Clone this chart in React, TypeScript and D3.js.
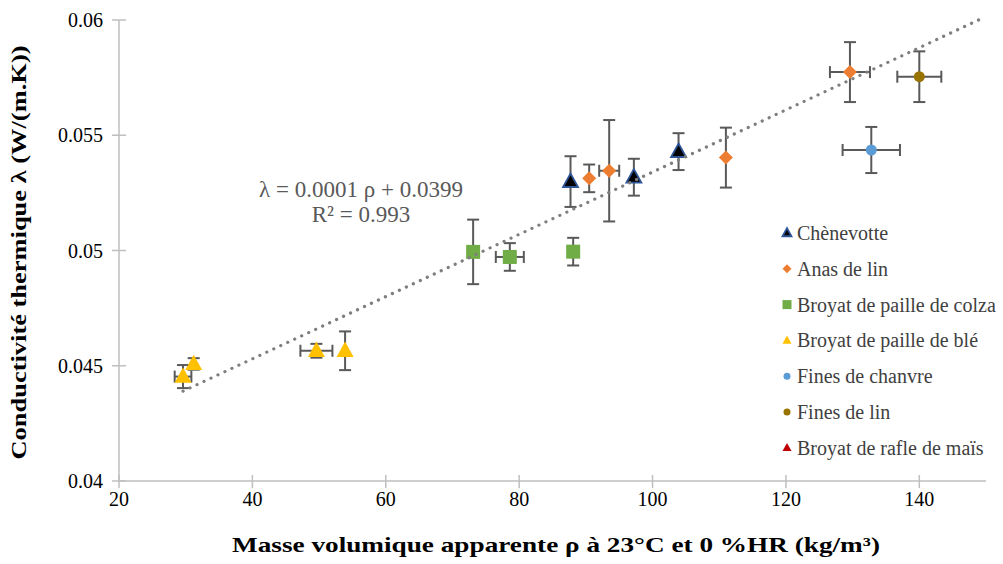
import React from "react";
import * as d3 from "d3";

const W = 1003;
const H = 564;

const xTicks = [20, 40, 60, 80, 100, 120, 140];
const yTicks = [0.04, 0.045, 0.05, 0.055, 0.06];

// Chènevotte
const chenX = [87.7, 97.2, 103.9];
const chenY = [0.05299, 0.05318, 0.05429];
const chenXErr = [0, 0, 0];
const chenYErr = [0.0011, 0.0008, 0.0008];

// Anas de lin
const anasX = [90.5, 93.5, 111.0, 129.6];
const anasY = [0.05313, 0.05346, 0.05403, 0.05774];
const anasXErr = [0, 1.5, 0, 3.0];
const anasYErr = [0.0006, 0.0022, 0.0013, 0.0013];

// Broyat de paille de colza
const colzaX = [73.1, 78.6, 88.1];
const colzaY = [0.04994, 0.04972, 0.04995];
const colzaXErr = [0, 2.1, 0];
const colzaYErr = [0.0014, 0.0006, 0.0006];

// Broyat de paille de blé
const bleX = [29.6, 31.2, 49.6, 53.9];
const bleY = [0.04453, 0.04508, 0.04565, 0.04565];
const bleXErr = [1.25, 0, 2.4, 0];
const bleYErr = [0.0005, 0.00025, 0.0003, 0.00084];

// Fines de chanvre
const chanvreX = [132.8];
const chanvreY = [0.05436];
const chanvreXErr = [4.3];
const chanvreYErr = [0.001];

// Fines de lin
const finesLinX = [140.0];
const finesLinY = [0.05754];
const finesLinXErr = [3.3];
const finesLinYErr = [0.0011];

// Broyat de rafle de maïs (no visible points)
const maisX: number[] = [];
const maisY: number[] = [];
const maisXErr: number[] = [];
const maisYErr: number[] = [];

// Trendline
const trendSlope = 0.000135;
const trendIntercept = 0.0399;
const trendRange = [29.6, 149];
const equationText = "λ = 0.0001 ρ + 0.0399";
const r2Text = "R² = 0.993";

type Shape = "triangle" | "diamond" | "square" | "circle";
interface Series {
  name: string;
  xs: number[];
  ys: number[];
  xe: number[];
  ye: number[];
  shape: Shape;
  fill: string;
  stroke: string;
  size: number;
}

const series: Series[] = [
  { name: "Chènevotte", xs: chenX, ys: chenY, xe: chenXErr, ye: chenYErr, shape: "triangle", fill: "#000000", stroke: "#2f5597", size: 15 },
  { name: "Anas de lin", xs: anasX, ys: anasY, xe: anasXErr, ye: anasYErr, shape: "diamond", fill: "#ed7d31", stroke: "none", size: 14 },
  { name: "Broyat de paille de colza", xs: colzaX, ys: colzaY, xe: colzaXErr, ye: colzaYErr, shape: "square", fill: "#70ad47", stroke: "none", size: 14 },
  { name: "Broyat de paille de blé", xs: bleX, ys: bleY, xe: bleXErr, ye: bleYErr, shape: "triangle", fill: "#ffc000", stroke: "none", size: 17 },
  { name: "Fines de chanvre", xs: chanvreX, ys: chanvreY, xe: chanvreXErr, ye: chanvreYErr, shape: "circle", fill: "#5b9bd5", stroke: "none", size: 11 },
  { name: "Fines de lin", xs: finesLinX, ys: finesLinY, xe: finesLinXErr, ye: finesLinYErr, shape: "circle", fill: "#997300", stroke: "none", size: 11 },
  { name: "Broyat de rafle de maïs", xs: maisX, ys: maisY, xe: maisXErr, ye: maisYErr, shape: "triangle", fill: "#c00000", stroke: "none", size: 15 },
];

const left = 119;
const right = 986;
const top = 20;
const bottom = 481;

const x = d3.scaleLinear().domain([20, 150]).range([left, right]);
const y = d3.scaleLinear().domain([0.04, 0.06]).range([bottom, top]);

function Marker({ shape, cx, cy, size, fill, stroke }: { shape: Shape; cx: number; cy: number; size: number; fill: string; stroke: string }) {
  const s = size;
  if (shape === "triangle") {
    const h = s * 0.9;
    const pts = `${cx},${cy - h * 0.6} ${cx + s / 2},${cy + h * 0.4} ${cx - s / 2},${cy + h * 0.4}`;
    return <polygon points={pts} fill={fill} stroke={stroke} strokeWidth={stroke === "none" ? 0 : 1.8} strokeLinejoin="miter" />;
  }
  if (shape === "diamond") {
    const r = s / 2;
    const pts = `${cx},${cy - r} ${cx + r},${cy} ${cx},${cy + r} ${cx - r},${cy}`;
    return <polygon points={pts} fill={fill} />;
  }
  if (shape === "square") {
    return <rect x={cx - s / 2} y={cy - s / 2} width={s} height={s} fill={fill} />;
  }
  return <circle cx={cx} cy={cy} r={s / 2} fill={fill} />;
}

export default function App() {
  const serif = "Liberation Serif, Times New Roman, serif";
  const errColor = "#595959";
  const cap = 6;
  const line = d3.line<number>().x((d) => x(d)).y((d) => y(trendSlope * d + trendIntercept));
  const legendX = 787;
  const legendY0 = 233;
  const legendStep = 35.8;

  return (
    <svg width={W} height={H} style={{ position: "absolute", left: 0, top: 0, background: "#fff" }} fontFamily={serif}>
      <rect width={W} height={H} fill="#fff" />
      {/* axes */}
      <line x1={left} x2={left} y1={top} y2={bottom} stroke="#bfbfbf" strokeWidth={1.5} />
      <line x1={left} x2={right} y1={bottom} y2={bottom} stroke="#bfbfbf" strokeWidth={1.5} />
      {yTicks.map((t) => (
        <g key={"y" + t}>
          <line x1={left - 7} x2={left + 7} y1={y(t)} y2={y(t)} stroke="#bfbfbf" strokeWidth={1.5} />
          <text x={left - 16} y={y(t)} dy="0.35em" textAnchor="end" fontSize={20} fill="#000">
            {String(t)}
          </text>
        </g>
      ))}
      {xTicks.map((t) => (
        <g key={"x" + t}>
          <line x1={x(t)} x2={x(t)} y1={bottom - 6} y2={bottom + 7} stroke="#bfbfbf" strokeWidth={1.5} />
          <text x={x(t)} y={bottom + 25} textAnchor="middle" fontSize={20} fill="#000">
            {String(t)}
          </text>
        </g>
      ))}

      {/* axis titles */}
      <text
        transform={`translate(26, ${(top + bottom) / 2 + 2}) rotate(-90)`}
        textAnchor="middle"
        fontSize={21}
        fontWeight="bold"
        fill="#000"
        textLength={414}
        lengthAdjust="spacingAndGlyphs"
      >
        Conductivité thermique λ (W/(m.K))
      </text>
      <text x={556} y={552} textAnchor="middle" fontSize={22} fontWeight="bold" fill="#000" textLength={648} lengthAdjust="spacingAndGlyphs">
        Masse volumique apparente ρ à 23°C et 0 %HR  (kg/m³)
      </text>

      {/* error bars */}
      {series.map((s) =>
        s.xs.map((xv, i) => {
          const cx = x(xv);
          const cy = y(s.ys[i]);
          const y1 = y(s.ys[i] + s.ye[i]);
          const y2 = y(s.ys[i] - s.ye[i]);
          const x1 = x(xv - s.xe[i]);
          const x2 = x(xv + s.xe[i]);
          return (
            <g key={s.name + "e" + i} stroke={errColor} strokeWidth={2}>
              {s.ye[i] > 0 && (
                <>
                  <line x1={cx} x2={cx} y1={y1} y2={y2} />
                  <line x1={cx - cap} x2={cx + cap} y1={y1} y2={y1} />
                  <line x1={cx - cap} x2={cx + cap} y1={y2} y2={y2} />
                </>
              )}
              {s.xe[i] > 0 && (
                <>
                  <line x1={x1} x2={x2} y1={cy} y2={cy} />
                  <line x1={x1} x2={x1} y1={cy - cap} y2={cy + cap} />
                  <line x1={x2} x2={x2} y1={cy - cap} y2={cy + cap} />
                </>
              )}
            </g>
          );
        })
      )}

      {/* markers */}
      {series.map((s) =>
        s.xs.map((xv, i) => (
          <Marker key={s.name + "m" + i} shape={s.shape} cx={x(xv)} cy={y(s.ys[i])} size={s.size} fill={s.fill} stroke={s.stroke} />
        ))
      )}

      {/* trendline */}
      <path
        d={line(trendRange) || ""}
        fill="none"
        stroke="#7f7f7f"
        strokeWidth={3.2}
        strokeLinecap="round"
        strokeDasharray="0.1 7.6"
      />

      {/* equation */}
      <text x={361} y={197} textAnchor="middle" fontSize={23} fill="#595959">
        {equationText}
      </text>
      <text x={361} y={222} textAnchor="middle" fontSize={23} fill="#595959">
        {r2Text}
      </text>

      {/* legend */}
      {series.map((s, i) => {
        const ly = legendY0 + i * legendStep;
        return (
          <g key={"leg" + i}>
            <Marker shape={s.shape} cx={legendX} cy={ly} size={s.shape === "circle" ? 7 : 9} fill={s.fill} stroke={s.stroke} />
            <text x={legendX + 10} y={ly} dy="0.35em" fontSize={20} fill="#404040">
              {s.name}
            </text>
          </g>
        );
      })}
    </svg>
  );
}
